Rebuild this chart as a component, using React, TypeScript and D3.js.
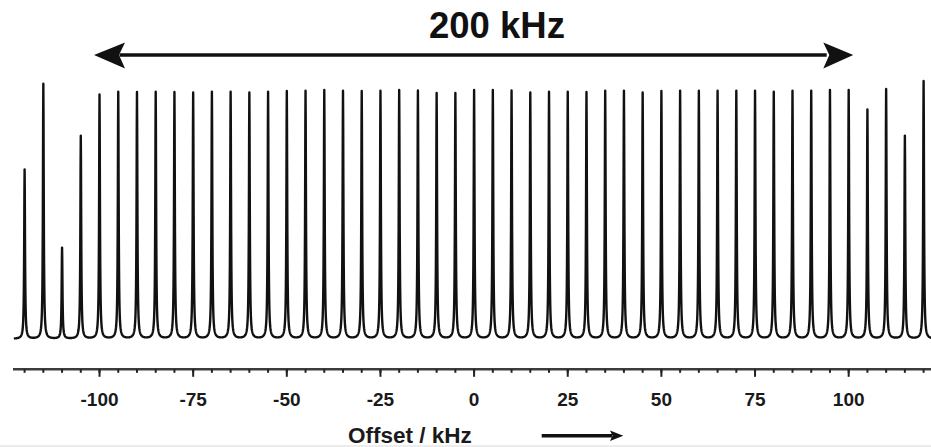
import React from "react";
import * as d3 from "d3";

// Peak offsets (kHz) of the excitation comb
const OFFSETS = [
  -120, -115, -110, -105, -100, -95, -90, -85, -80, -75, -70, -65, -60, -55, -50, -45, -40,
  -35, -30, -25, -20, -15, -10, -5, 0, 5, 10, 15, 20, 25, 30, 35, 40, 45, 50, 55, 60, 65,
  70, 75, 80, 85, 90, 95, 100, 105, 110, 115, 120,
];

// Peak intensities (relative, %)
const INTENSITIES = [
  68.3, 102.9, 36.7, 81.9, 98.5, 99.6, 99.5, 99.6, 99.5, 99.3, 99.6, 99.6, 99.3, 99.6, 99.9,
  100.0, 100.3, 100.0, 99.9, 100.0, 100.3, 100.1, 99.1, 99.1, 100.3, 100.3, 100.1, 99.3, 99.6,
  99.6, 99.5, 100.0, 100.0, 99.3, 99.9, 100.0, 100.0, 100.0, 100.0, 100.0, 99.6, 100.0, 100.0,
  100.3, 100.3, 92.4, 100.7, 81.9, 104.0,
];

const MAJOR_TICKS = [-100, -75, -50, -25, 0, 25, 50, 75, 100];
const MINOR_TICKS = OFFSETS;

const SPAN_LABEL = "200 kHz";
const AXIS_TITLE = "Offset / kHz";

const W = 931;
const H = 447;
const FONT = "'Liberation Sans', Arial, Helvetica, sans-serif";

// Lorentzian half width (kHz)
const GAMMA = 0.13;

export default function App() {
  const x = d3.scaleLinear().domain([-120, 120]).range([24.6, 923.6]);
  const y = d3.scaleLinear().domain([0, 100]).range([339, 91.2]);

  // sample grid at 0.05 kHz, so every peak centre is hit exactly
  const startI = Math.floor(x.invert(15) * 20);
  const endI = Math.ceil(x.invert(W) * 20);
  const g2 = GAMMA * GAMMA;
  const pts: [number, number][] = [];
  for (let i = startI; i <= endI; i++) {
    const f = i / 20;
    let s = 0;
    for (let k = 0; k < OFFSETS.length; k++) {
      const d = f - OFFSETS[k];
      s += (INTENSITIES[k] * g2) / (g2 + d * d);
    }
    pts.push([f, s]);
  }
  const line = d3
    .line<[number, number]>()
    .x((d) => x(d[0]))
    .y((d) => y(d[1]));
  const specPath = line(pts) || "";

  const axisY = 369.3;

  return (
    <svg
      width={W}
      height={H}
      style={{ position: "absolute", left: 0, top: 0, background: "#fff" }}
    >
      <rect x={0} y={0} width={W} height={H} fill="#fff" />

      {/* spectrum */}
      <path
        d={specPath}
        fill="none"
        stroke="#111"
        strokeWidth={2.4}
        strokeLinejoin="round"
        strokeLinecap="round"
      />

      {/* span arrow */}
      <text
        x={497}
        y={38}
        textAnchor="middle"
        fontFamily={FONT}
        fontWeight="bold"
        fontSize={36.5}
        fill="#111"
      >
        {SPAN_LABEL}
      </text>
      <line x1={x(-100) + 20} x2={x(100) - 22} y1={55} y2={55} stroke="#111" strokeWidth={3.5} />
      <path
        d={`M${x(-100) - 5.5},55 L${x(-100) + 25.5},42.5 L${x(-100) + 19.5},55 L${x(-100) + 25.5},68.5 Z`}
        fill="#111"
      />
      <path
        d={`M${x(100) + 4.6},55 L${x(100) - 25.4},42.5 L${x(100) - 19.4},55 L${x(100) - 25.4},68.5 Z`}
        fill="#111"
      />

      {/* x axis */}
      <line x1={13} x2={W} y1={axisY} y2={axisY} stroke="#3c3c3c" strokeWidth={2.6} />
      {MINOR_TICKS.map((t) => (
        <line
          key={"m" + t}
          x1={x(t)}
          x2={x(t)}
          y1={axisY}
          y2={axisY + 3.5}
          stroke="#222"
          strokeWidth={2}
        />
      ))}
      {MAJOR_TICKS.map((t) => (
        <line
          key={"M" + t}
          x1={x(t)}
          x2={x(t)}
          y1={axisY}
          y2={axisY + 7.5}
          stroke="#222"
          strokeWidth={2}
        />
      ))}
      {MAJOR_TICKS.map((t) => (
        <text
          key={"l" + t}
          x={x(t)}
          y={405.5}
          textAnchor="middle"
          fontFamily={FONT}
          fontWeight="bold"
          fontSize={19}
          fill="#1a1a1a"
        >
          {String(t)}
        </text>
      ))}

      {/* axis title with direction arrow */}
      <text
        x={348}
        y={443}
        fontFamily={FONT}
        fontWeight="bold"
        fontSize={22.5}
        fill="#1a1a1a"
      >
        {AXIS_TITLE}
      </text>
      <line x1={541.7} x2={612} y1={435.8} y2={435.8} stroke="#111" strokeWidth={3.4} />
      <path d="M623.3,435.8 L610,430.6 L612.5,435.8 L610,441 Z" fill="#111" />

      <rect x={0} y={445} width={W} height={2} fill="#ececec" />
    </svg>
  );
}
